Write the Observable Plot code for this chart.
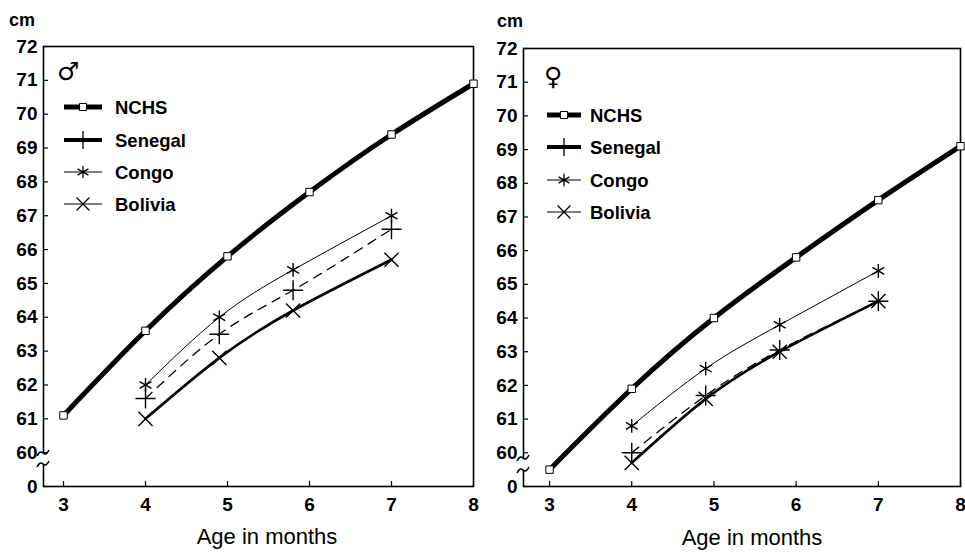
<!DOCTYPE html>
<html>
<head>
<meta charset="utf-8">
<script src="https://cdn.jsdelivr.net/npm/d3@7"></script>
<script src="https://cdn.jsdelivr.net/npm/@observablehq/plot@0.6"></script>
<style>
  html, body { margin: 0; padding: 0; background: #fff; }
  #chart { position: relative; width: 965px; height: 553px; display: flex; }
  #chart svg { display: block; }
</style>
</head>
<body>
<div id="chart"></div>
<script>
// ---- data ----
const nchsAges = [3, 4, 5, 6, 7, 8];
const surveyAges = [4, 4.9, 5.8, 7];
const nchsMale = [61.1, 63.6, 65.8, 67.7, 69.4, 70.9];
const senegalMale = [61.6, 63.5, 64.8, 66.6];
const congoMale = [62.0, 64.0, 65.4, 67.0];
const boliviaMale = [61.0, 62.8, 64.2, 65.7];
const nchsFemale = [59.5, 61.9, 64.0, 65.8, 67.5, 69.1];
const senegalFemale = [60.0, 61.7, 63.05, 64.5];
const congoFemale = [60.8, 62.5, 63.8, 65.4];
const boliviaFemale = [59.7, 61.6, 63.0, 64.5];
const xTicks = [3, 4, 5, 6, 7, 8];
const yTicks = [59, 60, 61, 62, 63, 64, 65, 66, 67, 68, 69, 70, 71, 72]; // 59 is drawn as the "0" below the axis break
const yBreakLabel = "0";
const seriesNames = ["NCHS", "Senegal", "Congo", "Bolivia"];
const xTitle = "Age in months";
const yUnit = "cm";

const toRows = (ages, vals) => ages.map((a, i) => ({age: a, cm: vals[i]}));

function panel(o) {
  const nchs = toRows(nchsAges, o.nchs);
  const sen = toRows(surveyAges, o.sen);
  const con = toRows(surveyAges, o.con);
  const bol = toRows(surveyAges, o.bol);
  const plot = Plot.plot({
    width: o.width, height: 553,
    marginLeft: o.ml, marginRight: o.mr, marginTop: o.mt, marginBottom: 67,
    x: {domain: o.xDomain},
    y: {domain: [59, 72]},
    style: {fontFamily: "'Liberation Sans', Arial, sans-serif", fontSize: "19px", fontWeight: "bold", color: "#000", background: "#fff", overflow: "visible"},
    marks: [
      Plot.axisY({ticks: yTicks, tickSize: -5, tickPadding: 11, label: null,
        tickFormat: d => d === 59 ? yBreakLabel : String(d), fontSize: 19, fontWeight: "bold", strokeWidth: 1.2}),
      Plot.axisX({ticks: xTicks, tickSize: -5, tickPadding: 16, label: null, tickFormat: d => String(d),
        fontSize: 19, fontWeight: "bold", strokeWidth: 1.2}),
      Plot.frame({stroke: "#000", strokeWidth: 1.6}),
      Plot.line(nchs, {x: "age", y: "cm", curve: "natural", stroke: "#000", strokeWidth: 5}),
      Plot.line(con, {x: "age", y: "cm", curve: "natural", stroke: "#000", strokeWidth: 1}),
      Plot.line(sen, {x: "age", y: "cm", curve: "natural", stroke: "#000", strokeWidth: 1.3, strokeDasharray: "9,7"}),
      Plot.line(bol, {x: "age", y: "cm", curve: "natural", stroke: "#000", strokeWidth: 2.6}),
      Plot.dot(nchs, {x: "age", y: "cm", symbol: "square", r: 4.2, fill: "#fff", stroke: "#000", strokeWidth: 1}),
      Plot.dot(con, {x: "age", y: "cm", symbol: "asterisk", r: 6.5, stroke: "#000", strokeWidth: 1.4}),
      Plot.dot(sen, {x: "age", y: "cm", symbol: "plus", r: 6.5, stroke: "#000", strokeWidth: 1.4}),
      Plot.dot(bol, {x: "age", y: "cm", symbol: "times", r: 6.5, stroke: "#000", strokeWidth: 1.4})
    ]
  });
  const svg = d3.select(plot);
  // axis break on the left frame line
  const fx = o.ml;
  svg.append("rect").attr("x", fx - 3).attr("y", o.brk[0]).attr("width", 6).attr("height", o.brk[1] - o.brk[0]).attr("fill", "#fff");
  [o.brk[0], o.brk[1]].forEach(y => {
    svg.append("path").attr("d", `M${fx - 6},${y + 3} q3,-6 6,-3 q3,3 6,-3`).attr("fill", "none").attr("stroke", "#000").attr("stroke-width", 1.6);
  });
  // unit label
  svg.append("text").attr("x", o.cm[0]).attr("y", o.cm[1]).attr("text-anchor", "start")
    .attr("font-size", 18).attr("font-weight", "bold").text(yUnit);
  // x title
  svg.append("text").attr("x", o.xt[0]).attr("y", o.xt[1]).attr("text-anchor", "middle")
    .attr("font-size", 22).attr("font-weight", "normal").text(xTitle);
  // sex symbol
  svg.append("text").attr("x", o.sym[0]).attr("y", o.sym[1]).attr("text-anchor", "start").attr("font-size", 25).attr("font-weight", "normal")
    .attr("font-family", "'DejaVu Sans', sans-serif").text(o.symbol);
  // legend
  const lg = svg.append("g");
  const styles = [
    {w: 5, m: "square"}, {w: 4, m: "plus"}, {w: 1.2, m: "asterisk"}, {w: 1.2, m: "times"}
  ];
  const symMap = {square: d3.symbolSquare, plus: d3.symbolPlus, asterisk: d3.symbolAsterisk, times: d3.symbolTimes};
  seriesNames.forEach((name, i) => {
    const y = o.lg.y[i];
    const s = styles[i];
    lg.append("line").attr("x1", o.lg.x1).attr("x2", o.lg.x2).attr("y1", y).attr("y2", y)
      .attr("stroke", "#000").attr("stroke-width", s.w);
    const cx = (o.lg.x1 + o.lg.x2) / 2;
    const sym = d3.symbol(symMap[s.m], s.m === "square" ? 50 : 110)();
    lg.append("path").attr("d", sym).attr("transform", `translate(${cx},${y})`)
      .attr("fill", s.m === "square" ? "#fff" : "none").attr("stroke", "#000").attr("stroke-width", s.m === "square" ? 1 : 1.3);
    lg.append("text").attr("x", o.lg.tx).attr("y", y).attr("dy", "0.36em").attr("text-anchor", "start")
      .attr("font-size", 18.5).attr("font-weight", "bold").text(name);
  });
  return plot;
}

const root = document.getElementById("chart");
root.appendChild(panel({
  width: 482, ml: 43, mr: 9, mt: 46, xDomain: [2.756, 8],
  nchs: nchsMale, sen: senegalMale, con: congoMale, bol: boliviaMale,
  brk: [453, 464], cm: [9, 26], xt: [267, 544], sym: [57, 80], symbol: "\u2642",
  lg: {x1: 64, x2: 102, tx: 115, y: [107, 140, 172, 204]}
}));
root.appendChild(panel({
  width: 483, ml: 41, mr: 5, mt: 48, xDomain: [2.683, 8],
  nchs: nchsFemale, sen: senegalFemale, con: congoFemale, bol: boliviaFemale,
  brk: [458, 470], cm: [15, 27], xt: [270, 545], sym: [62, 85], symbol: "\u2640",
  lg: {x1: 65, x2: 99, tx: 108, y: [115, 147, 180, 212]}
}));
</script>
</body>
</html>
